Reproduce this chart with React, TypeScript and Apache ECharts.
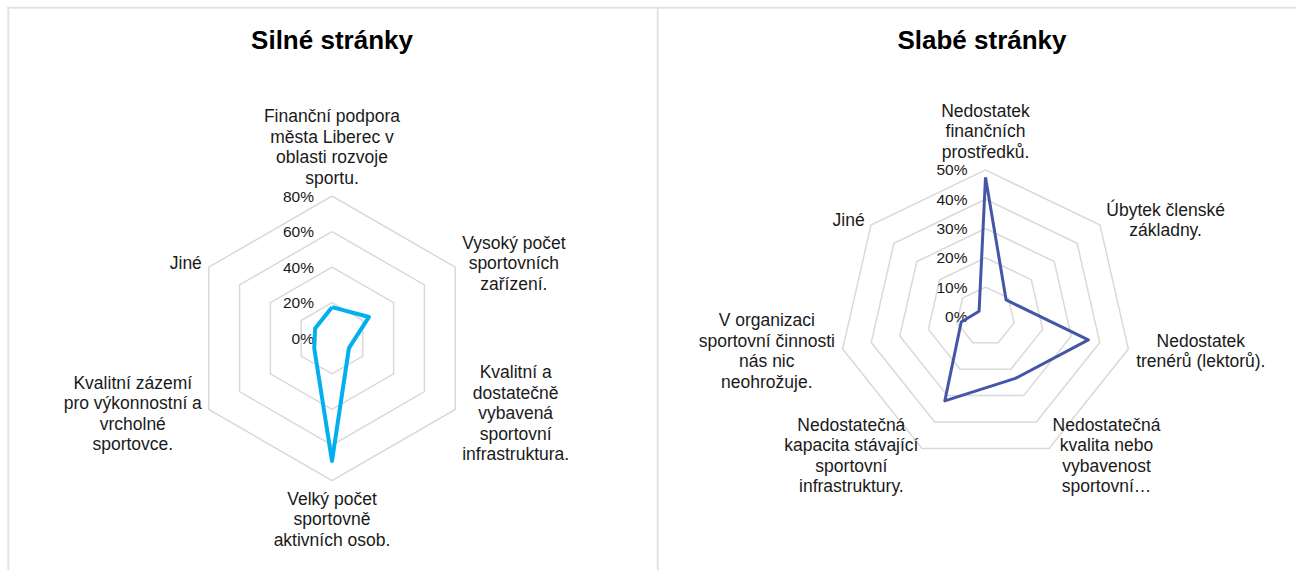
import { useEffect, useRef } from 'react';
import * as echarts from 'echarts';

const FONT = '"Liberation Sans", Arial, sans-serif';

// Silné stránky (clockwise from top)
const strengthCategories = [
  'Finanční podpora\nměsta Liberec v\noblasti rozvoje\nsportu.',
  'Vysoký počet\nsportovních\nzařízení.',
  'Kvalitní a\ndostatečně\nvybavená\nsportovní\ninfrastruktura.',
  'Velký počet\nsportovně\naktivních osob.',
  'Kvalitní zázemí\npro výkonnostní a\nvrcholné\nsportovce.',
  'Jiné',
];
const strengthValues = [17.5, 24, 11, 69, 11.5, 11];
const strengthMax = 80;
const strengthStep = 20;

// Slabé stránky (clockwise from top)
const weaknessCategories = [
  'Nedostatek\nfinančních\nprostředků.',
  'Úbytek členské\nzákladny.',
  'Nedostatek\ntrenérů (lektorů).',
  'Nedostatečná\nkvalita nebo\nvybavenost\nsportovní…',
  'Nedostatečná\nkapacita stávající\nsportovní\ninfrastruktury.',
  'V organizaci\nsportovní činnosti\nnás nic\nneohrožuje.',
  'Jiné',
];
const weaknessValues = [47.5, 9, 36, 23.5, 32, 8.5, 2.8];
const weaknessMax = 50;
const weaknessStep = 10;

const titles = ['Silné stránky', 'Slabé stránky'];

// ECharts lays indicators out counter-clockwise; reorder to get clockwise.
function cw(a: any[]) {
  return [a[0], ...a.slice(1).reverse()];
}

function makeRadar(cats: string[], max: number, step: number, center: number[], radius: number) {
  return {
    center,
    radius,
    startAngle: 90,
    shape: 'polygon',
    splitNumber: max / step,
    indicator: cw(cats).map((name: string, i: number) => ({
      name,
      min: 0,
      max,
      ...(i === 0 ? { axisLabel: { show: true } } : {}),
    })),
    axisName: {
      show: true,
      color: '#1a1a1a',
      fontSize: 17.5,
      fontFamily: FONT,
      formatter: (n: string) => n.split('\n').map((l) => `{c|${l}}`).join('\n'),
      rich: {
        c: { align: 'center', fontSize: 17.5, lineHeight: 20.5, color: '#1a1a1a', fontFamily: FONT },
      },
    },
    nameGap: 8,
    axisLine: { show: false },
    axisTick: { show: false },
    axisLabel: {
      show: false,
      formatter: (v: number) => `${v}%`,
      margin: 18,
      fontSize: 15.5,
      color: '#1a1a1a',
      fontFamily: FONT,
    },
    splitLine: { lineStyle: { color: '#d9d9d9', width: 1.5 } },
    splitArea: { show: false },
  };
}

export default function App() {
  const ref = useRef<HTMLDivElement>(null);
  useEffect(() => {
    const chart = echarts.init(ref.current!, null, { renderer: 'svg' });
    const borderStyle = { stroke: '#e3e3e3', lineWidth: 2 };
    chart.setOption({
      animation: false,
      backgroundColor: '#fff',
      title: [
        {
          text: titles[0], left: 332, top: 27, textAlign: 'center', padding: 0,
          textStyle: { fontSize: 26, fontWeight: 'bold', color: '#000', fontFamily: FONT },
        },
        {
          text: titles[1], left: 982, top: 27, textAlign: 'center', padding: 0,
          textStyle: { fontSize: 26, fontWeight: 'bold', color: '#000', fontFamily: FONT },
        },
      ],
      graphic: [
        { type: 'line', shape: { x1: 7, y1: 7.7, x2: 1296, y2: 7.7 }, style: borderStyle, silent: true },
        { type: 'line', shape: { x1: 8.3, y1: 7, x2: 8.3, y2: 570 }, style: borderStyle, silent: true },
        { type: 'line', shape: { x1: 657.7, y1: 7, x2: 657.7, y2: 570 }, style: borderStyle, silent: true },
      ],
      radar: [
        makeRadar(strengthCategories, strengthMax, strengthStep, [332, 338.3], 142.3),
        makeRadar(weaknessCategories, weaknessMax, weaknessStep, [985.5, 316.4], 146.5),
      ],
      series: [
        {
          type: 'radar', radarIndex: 0, symbol: 'none', silent: true,
          lineStyle: { color: '#00B0F0', width: 4 }, itemStyle: { color: '#00B0F0' },
          data: [{ value: cw(strengthValues), name: titles[0] }],
        },
        {
          type: 'radar', radarIndex: 1, symbol: 'none', silent: true,
          lineStyle: { color: '#4656A6', width: 3 }, itemStyle: { color: '#4656A6' },
          data: [{ value: cw(weaknessValues), name: titles[1] }],
        },
      ],
    });
    return () => chart.dispose();
  }, []);
  return (
    <div
      ref={ref}
      style={{ position: 'fixed', left: 0, top: 0, width: 1296, height: 570, background: '#fff' }}
    />
  );
}
